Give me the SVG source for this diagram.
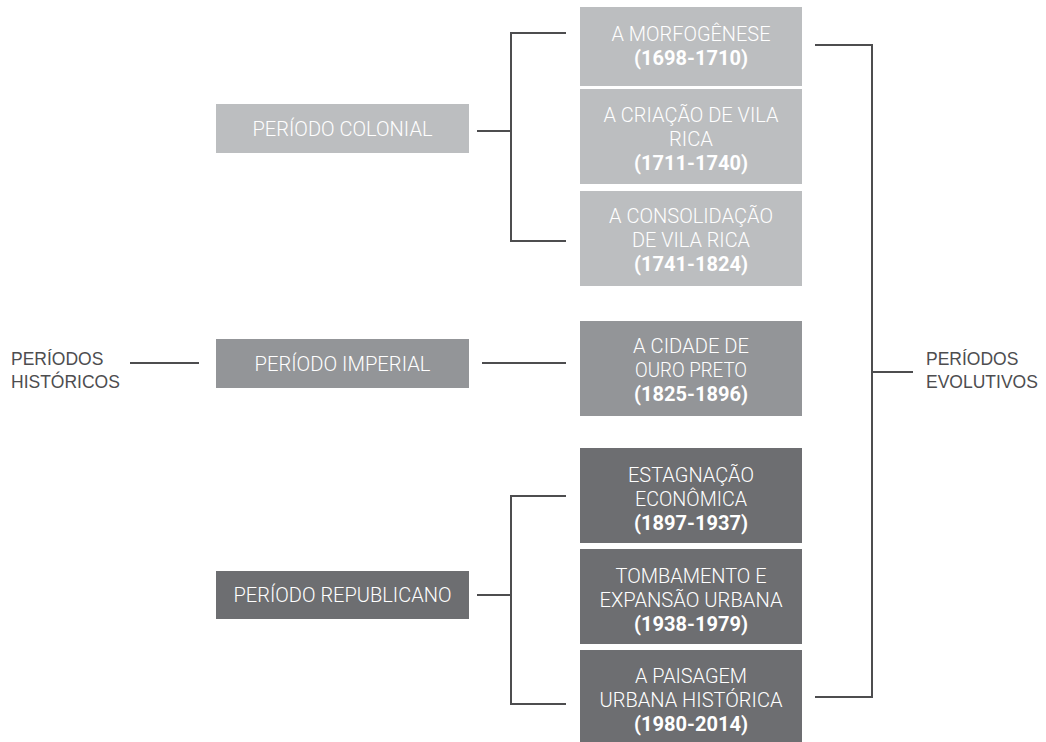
<svg xmlns="http://www.w3.org/2000/svg" width="1046" height="742" viewBox="0 0 1046 742">
  <style>
    .light { fill: #bcbec0; }
    .mid { fill: #939598; }
    .dark { fill: #6d6e71; }
    .bt { font-family: Roboto, "Liberation Sans", sans-serif; font-size: 20px; font-weight: 300; fill: #ffffff; text-anchor: middle; }
    .yr { font-weight: 700; }
    .side { font-family: "Liberation Sans", Arial, sans-serif; font-size: 17.5px; fill: #4d4d4f; }
    .conn { fill: none; stroke: #4d4d4f; stroke-width: 2; }
  </style>
  <rect width="1046" height="742" fill="#ffffff"/>

  <g id="connectors">
    <path class="conn" d="M130,363 H199"/>
    <path class="conn" d="M482,363 H566"/>
    <path class="conn" d="M477,131 H511"/>
    <path class="conn" d="M566,33 H511 V241 H566"/>
    <path class="conn" d="M477,595 H511"/>
    <path class="conn" d="M566,496 H511 V704 H566"/>
    <path class="conn" d="M815,45 H872 V697 H815"/>
    <path class="conn" d="M872,372 H913"/>
  </g>

  <g id="periodos-historicos">
    <text class="side" x="11" y="365">PERÍODOS</text>
    <text class="side" x="11" y="388">HISTÓRICOS</text>
  </g>

  <g id="periodos-evolutivos">
    <text class="side" x="926" y="365">PERÍODOS</text>
    <text class="side" x="926" y="388">EVOLUTIVOS</text>
  </g>

  <g id="periodo-colonial">
    <rect class="light" x="216" y="104" width="253" height="49"/>
    <text class="bt" x="342.5" y="136" textLength="180" lengthAdjust="spacingAndGlyphs">PERÍODO COLONIAL</text>
  </g>

  <g id="periodo-imperial">
    <rect class="mid" x="216" y="339" width="253" height="49"/>
    <text class="bt" x="342.5" y="371" textLength="176" lengthAdjust="spacingAndGlyphs">PERÍODO IMPERIAL</text>
  </g>

  <g id="periodo-republicano">
    <rect class="dark" x="216" y="571" width="253" height="48"/>
    <text class="bt" x="342.5" y="602" textLength="218" lengthAdjust="spacingAndGlyphs">PERÍODO REPUBLICANO</text>
  </g>

  <g id="morfogenese">
    <rect class="light" x="580" y="7" width="222" height="79"/>
    <text class="bt" x="691" y="41" textLength="159" lengthAdjust="spacingAndGlyphs">A MORFOGÊNESE</text>
    <text class="bt yr" x="691" y="65" textLength="114" lengthAdjust="spacingAndGlyphs">(1698-1710)</text>
  </g>

  <g id="criacao-vila-rica">
    <rect class="light" x="580" y="89" width="222" height="95"/>
    <text class="bt" x="691" y="122" textLength="175" lengthAdjust="spacingAndGlyphs">A CRIAÇÃO DE VILA</text>
    <text class="bt" x="691" y="146" textLength="44" lengthAdjust="spacingAndGlyphs">RICA</text>
    <text class="bt yr" x="691" y="170" textLength="114" lengthAdjust="spacingAndGlyphs">(1711-1740)</text>
  </g>

  <g id="consolidacao-vila-rica">
    <rect class="light" x="580" y="191" width="222" height="95"/>
    <text class="bt" x="691" y="223" textLength="164" lengthAdjust="spacingAndGlyphs">A CONSOLIDAÇÃO</text>
    <text class="bt" x="691" y="247" textLength="118" lengthAdjust="spacingAndGlyphs">DE VILA RICA</text>
    <text class="bt yr" x="691" y="271" textLength="114" lengthAdjust="spacingAndGlyphs">(1741-1824)</text>
  </g>

  <g id="cidade-ouro-preto">
    <rect class="mid" x="580" y="321" width="222" height="95"/>
    <text class="bt" x="691" y="353" textLength="116" lengthAdjust="spacingAndGlyphs">A CIDADE DE</text>
    <text class="bt" x="691" y="377" textLength="112" lengthAdjust="spacingAndGlyphs">OURO PRETO</text>
    <text class="bt yr" x="691" y="401" textLength="114" lengthAdjust="spacingAndGlyphs">(1825-1896)</text>
  </g>

  <g id="estagnacao-economica">
    <rect class="dark" x="580" y="448" width="222" height="95"/>
    <text class="bt" x="691" y="482" textLength="126" lengthAdjust="spacingAndGlyphs">ESTAGNAÇÃO</text>
    <text class="bt" x="691" y="506" textLength="112" lengthAdjust="spacingAndGlyphs">ECONÔMICA</text>
    <text class="bt yr" x="691" y="530" textLength="114" lengthAdjust="spacingAndGlyphs">(1897-1937)</text>
  </g>

  <g id="tombamento-expansao">
    <rect class="dark" x="580" y="549" width="222" height="95"/>
    <text class="bt" x="691" y="583" textLength="151" lengthAdjust="spacingAndGlyphs">TOMBAMENTO E</text>
    <text class="bt" x="691" y="607" textLength="183" lengthAdjust="spacingAndGlyphs">EXPANSÃO URBANA</text>
    <text class="bt yr" x="691" y="631" textLength="114" lengthAdjust="spacingAndGlyphs">(1938-1979)</text>
  </g>

  <g id="paisagem-urbana-historica">
    <rect class="dark" x="580" y="650" width="222" height="92"/>
    <text class="bt" x="691" y="683" textLength="112" lengthAdjust="spacingAndGlyphs">A PAISAGEM</text>
    <text class="bt" x="691" y="707" textLength="183" lengthAdjust="spacingAndGlyphs">URBANA HISTÓRICA</text>
    <text class="bt yr" x="691" y="731" textLength="114" lengthAdjust="spacingAndGlyphs">(1980-2014)</text>
  </g>
</svg>
